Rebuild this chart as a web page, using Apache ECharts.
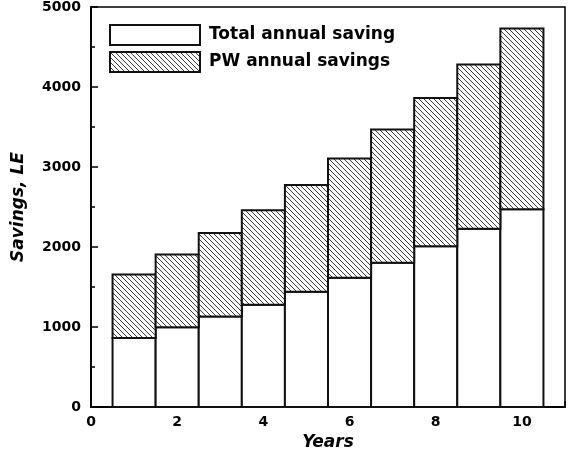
<!DOCTYPE html>
<html><head><meta charset="utf-8">
<script src="https://cdn.jsdelivr.net/npm/echarts@6/dist/echarts.min.js"></script>
<style>html,body{margin:0;padding:0;background:#fff}#c{width:572px;height:456px}</style>
</head><body><div id="c"></div>
<script>
const years = [1, 2, 3, 4, 5, 6, 7, 8, 9, 10];
const whiteValues = [864, 997, 1133, 1278, 1443, 1617, 1803, 2010, 2229, 2473];
const hatchTopValues = [1658, 1906, 2176, 2461, 2775, 3106, 3470, 3863, 4281, 4732];
const seriesNames = ['Total annual saving', 'PW annual savings'];
const xTicks = [0, 2, 4, 6, 8, 10];
const yTicks = [0, 1000, 2000, 3000, 4000, 5000];

const FONT = 'DejaVu Sans';
// hatch pattern
const tile = document.createElement('canvas');
tile.width = 5; tile.height = 5;
const tc = tile.getContext('2d');
tc.fillStyle = '#fff'; tc.fillRect(0,0,5,5);
tc.fillStyle = '#3a3a3a';
for (let i = 0; i < 5; i++) tc.fillRect(i, i, 1, 1);
const hatch = {image: tile, repeat: 'repeat'};

function makeRender(fill){
  return function(params, api){
    const x = api.value(0), lo = api.value(1), hi = api.value(2);
    const p0 = api.coord([x - 0.5, hi]);
    const p1 = api.coord([x + 0.5, lo]);
    return {type:'rect', shape:{x:p0[0], y:p0[1], width:p1[0]-p0[0], height:p1[1]-p0[1]},
      style:{fill: fill, stroke:'#111', lineWidth:2}};
  };
}
const whiteData = years.map((y,i)=>[y, 0, whiteValues[i]]);
const hatchData = years.map((y,i)=>[y, whiteValues[i], hatchTopValues[i]]);

const chart = echarts.init(document.getElementById('c'));
chart.setOption({
  animation:false,
  backgroundColor:'#fff',
  grid:{left:91, right:7, top:7, bottom:46, show:true, borderColor:'#000', borderWidth:1.5, backgroundColor:'transparent'},
  legend:{orient:'vertical', left:109, top:24, padding:0, itemWidth:90, itemHeight:20, itemGap:5,
    textStyle:{fontFamily:FONT, fontWeight:'bold', fontSize:17, color:'#000', padding:[0,0,0,4]},
    data:[
      {name:seriesNames[0], icon:'rect', itemStyle:{color:'#fff', borderColor:'#111', borderWidth:2}},
      {name:seriesNames[1], icon:'rect', itemStyle:{color:hatch, borderColor:'#111', borderWidth:2}}
    ]},
  xAxis:{type:'value', min:0, max:11, interval:2,
    name:'Years', nameLocation:'middle', nameGap:20,
    nameTextStyle:{fontFamily:FONT, fontWeight:'bold', fontStyle:'italic', fontSize:17, color:'#000'},
    axisLine:{show:true, lineStyle:{color:'#000', width:2}},
    axisTick:{show:true, inside:true, length:6, lineStyle:{color:'#000', width:1.5}},
    axisLabel:{fontFamily:FONT, fontWeight:'bold', fontSize:14, color:'#000', margin:8,
      formatter:v => xTicks.indexOf(v) >= 0 ? String(v) : ''},
    splitLine:{show:false}},
  yAxis:{type:'value', min:0, max:5000, interval:1000,
    name:'Savings, LE', nameLocation:'middle', nameGap:64, nameRotate:90,
    nameTextStyle:{fontFamily:FONT, fontWeight:'bold', fontStyle:'italic', fontSize:17, color:'#000'},
    axisLine:{show:true, lineStyle:{color:'#000', width:2}},
    axisTick:{show:true, inside:true, length:7, lineStyle:{color:'#000', width:1.5}},
    minorTick:{show:true, splitNumber:2, length:4, lineStyle:{color:'#000', width:1.5}},
    axisLabel:{fontFamily:FONT, fontWeight:'bold', fontSize:14, color:'#000', margin:10,
      formatter:v => yTicks.indexOf(v) >= 0 ? String(v) : ''},
    splitLine:{show:false}},
  series:[
    {name:seriesNames[0], type:'custom', renderItem:makeRender('#fff'), data:whiteData, encode:{x:0, y:[1,2]}, itemStyle:{color:'#fff'}},
    {name:seriesNames[1], type:'custom', renderItem:makeRender(hatch), data:hatchData, encode:{x:0, y:[1,2]}, itemStyle:{color:hatch}}
  ]
});
</script></body></html>
